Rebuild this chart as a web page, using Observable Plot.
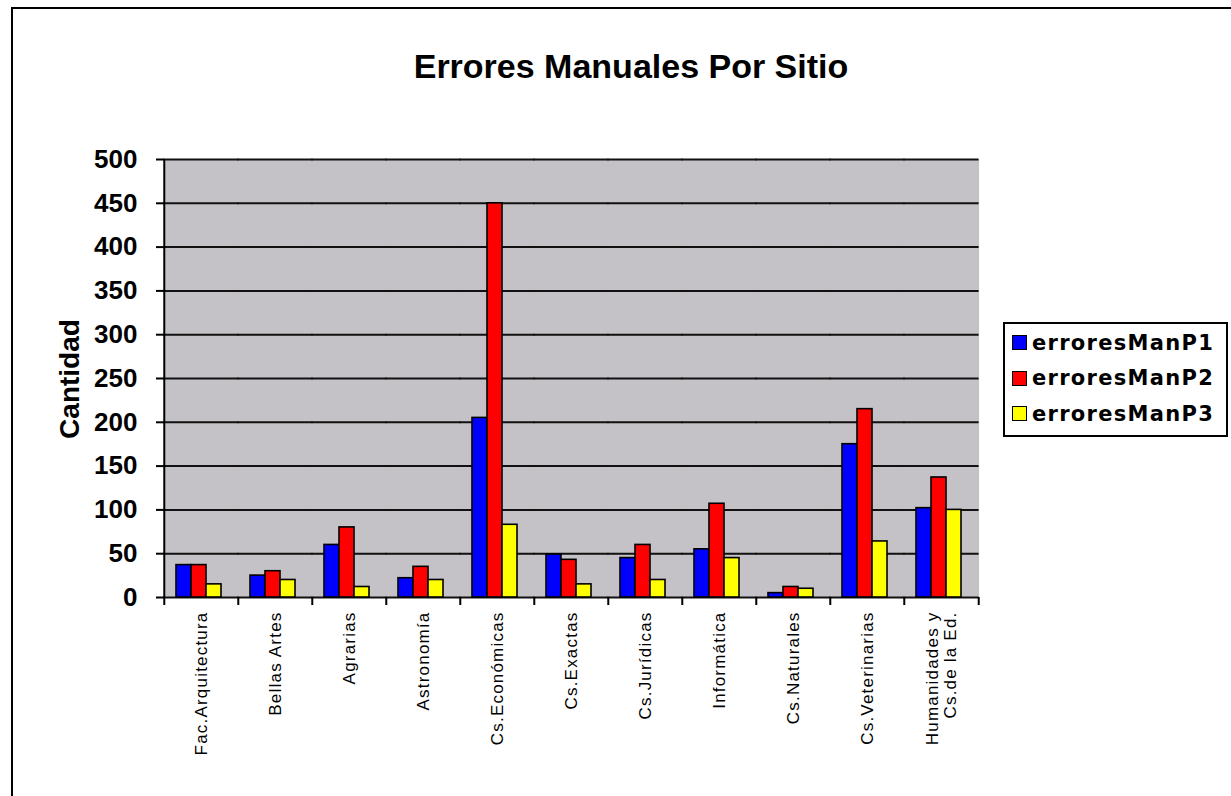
<!DOCTYPE html>
<html>
<head>
<meta charset="utf-8">
<script src="https://cdn.jsdelivr.net/npm/d3@7"></script>
<script src="https://cdn.jsdelivr.net/npm/@observablehq/plot@0.6"></script>
<style>
  html, body { margin: 0; padding: 0; background: #fff; overflow: hidden; }
  #wrap { position: relative; width: 1231px; height: 796px; overflow: hidden; background: #fff; font-family: Arial, "Liberation Sans", sans-serif; }
  #border { position: absolute; left: 11px; top: 7px; width: 1400px; height: 1000px; border: 2px solid #000; box-sizing: border-box; }
  #title { position: absolute; left: 0; width: 1262px; top: 47px; text-align: center; font-weight: bold; font-size: 34px; color: #000; }
  #ylabel { position: absolute; left: 70px; top: 379px; transform: translate(-50%, -50%) rotate(-90deg); font-weight: bold; font-size: 28px; white-space: nowrap; }
  #chart { position: absolute; left: 0; top: 0; }
  #legend { position: absolute; left: 1003px; top: 322px; width: 225px; height: 115px; border: 2px solid #000; box-sizing: border-box; background: #fff; padding: 1px 0 0 6px; }
  .item { display: flex; align-items: center; height: 35.5px; font-family: "DejaVu Sans", Verdana, sans-serif; font-weight: bold; font-size: 21px; letter-spacing: 1.3px; }
  .sw { width: 13px; height: 13px; border: 1.5px solid #000; margin-right: 5px; margin-left: 1px; flex: none; }
  g[aria-label="fx-axis tick label"] text { letter-spacing: 1.2px; }
</style>
</head>
<body>
<div id="wrap">
  <div id="border"></div>
  <div id="title">Errores Manuales Por Sitio</div>
  <div id="ylabel">Cantidad</div>
  <div id="chart"></div>
  <div id="legend"></div>
</div>
<script>
const categories = ["Fac.Arquitectura", "Bellas Artes", "Agrarias", "Astronomía", "Cs.Económicas", "Cs.Exactas", "Cs.Jurídicas", "Informática", "Cs.Naturales", "Cs.Veterinarias", "Humanidades y\nCs.de la Ed."];
const series = ["erroresManP1", "erroresManP2", "erroresManP3"];
const erroresManP1 = [37, 25, 60, 22, 205, 49, 45, 55, 5, 175, 102];
const erroresManP2 = [37, 30, 80, 35, 450, 43, 60, 107, 12, 215, 137];
const erroresManP3 = [15, 20, 12, 20, 83, 15, 20, 45, 10, 64, 100];
const yTicks = [0, 50, 100, 150, 200, 250, 300, 350, 400, 450, 500];
const colors = ["#0000ff", "#ff0000", "#ffff00"];

const values = [erroresManP1, erroresManP2, erroresManP3];
const table = categories.flatMap((c, i) => series.map((s, j) => ({cat: c, series: s, value: values[j][i]})));

const W = 1231, H = 796, mL = 161, mR = 251, mT = 159, mB = 199;
const step = (W - mL - mR) / categories.length;

const chart = Plot.plot({
  width: W, height: H,
  marginLeft: mL, marginRight: mR, marginTop: mT, marginBottom: mB,
  style: {background: "transparent", fontFamily: "Arial, 'Liberation Sans', sans-serif", color: "#000"},
  fx: {domain: categories, padding: 0, label: null, axis: null},
  x: {domain: series, paddingInner: 0, paddingOuter: 0.9, align: 0.4, axis: null},
  y: {domain: [0, 500], axis: null},
  color: {domain: series, range: colors},
  marks: [
    Plot.frame({fill: "#c4c2c6", stroke: null, insetLeft: -0.6, insetRight: -0.6}),
    Plot.ruleY(yTicks, {stroke: "#111", strokeWidth: 2, insetLeft: -0.6, insetRight: -0.6}),
    Plot.barY(table, {fx: "cat", x: "series", y: "value", fill: "series", stroke: "#000", strokeWidth: 1.6}),
    Plot.gridFx({ticks: [categories[0]], dx: -step / 2, stroke: "#000", strokeOpacity: 1, strokeWidth: 2}),
    Plot.axisY({ticks: yTicks, tickSize: 8, tickPadding: 19, fontSize: 26, fontWeight: "bold", label: null, stroke: "#000", strokeWidth: 2}),
    Plot.axisFx({anchor: "bottom", tickSize: 0, tickPadding: 14, tickRotate: -90, fontSize: 17, lineHeight: 1.05, label: null}),
    Plot.axisFx({anchor: "bottom", tickSize: 8, tickFormat: () => "", dx: -step / 2, label: null, stroke: "#000", strokeWidth: 2}),
    Plot.axisFx({anchor: "bottom", ticks: [categories[categories.length - 1]], tickSize: 8, tickFormat: () => "", dx: step / 2, label: null, stroke: "#000", strokeWidth: 2})
  ]
});
document.getElementById("chart").appendChild(chart);

const legend = document.getElementById("legend");
series.forEach((s, i) => {
  const item = document.createElement("div");
  item.className = "item";
  const sw = document.createElement("span");
  sw.className = "sw";
  sw.style.background = colors[i];
  item.appendChild(sw);
  item.appendChild(document.createTextNode(s));
  legend.appendChild(item);
});
</script>
</body>
</html>
